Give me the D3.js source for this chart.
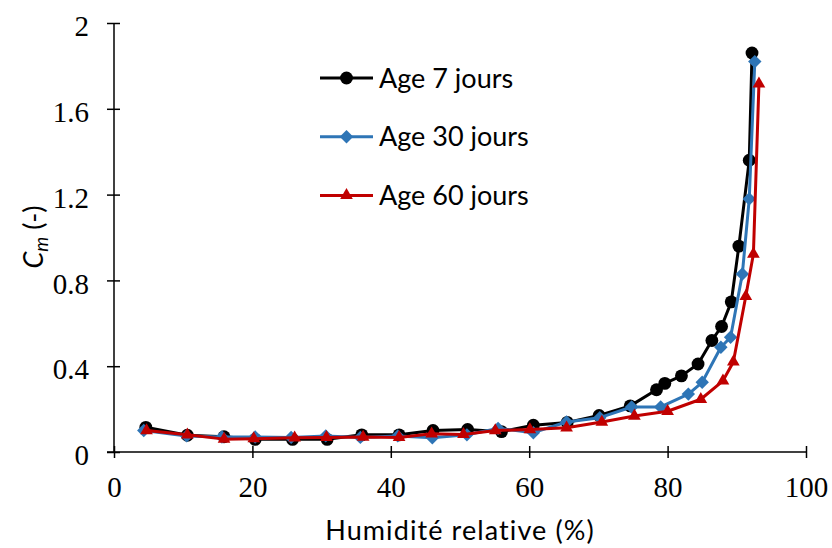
<!DOCTYPE html>
<html>
<head>
<meta charset="utf-8">
<script src="https://cdn.jsdelivr.net/npm/d3@7/dist/d3.min.js"></script>
<style>
  body { margin: 0; background: #fff; }
  svg { display: block; }
</style>
</head>
<body>
<svg id="chart" width="832" height="548"></svg>
<script>
// ---- Data ----
const xTicks = [0, 20, 40, 60, 80, 100];
const yTicks = [0, 0.4, 0.8, 1.2, 1.6, 2];
const yTickLabels = ["0", "0.4", "0.8", "1.2", "1.6", "2"];

const age7X = [4.6, 10.6, 15.9, 20.4, 25.8, 30.8, 35.8, 41.2, 46.1, 51.1, 56.0, 60.6, 65.5, 70.1, 74.6, 78.4, 79.6, 82.0, 84.4, 86.4, 87.8, 89.2, 90.3, 91.8, 92.2];
const age7Y = [0.115, 0.078, 0.071, 0.059, 0.059, 0.059, 0.08, 0.08, 0.10, 0.105, 0.095, 0.125, 0.138, 0.17, 0.215, 0.29, 0.32, 0.355, 0.41, 0.52, 0.585, 0.70, 0.96, 1.36, 1.86];

const age30X = [4.3, 10.5, 15.6, 20.4, 25.6, 30.6, 35.6, 41.0, 46.0, 51.0, 55.5, 60.6, 65.4, 70.2, 74.8, 79.0, 83.0, 85.0, 87.7, 89.1, 90.8, 91.8, 92.6];
const age30Y = [0.10, 0.075, 0.07, 0.07, 0.068, 0.075, 0.068, 0.075, 0.066, 0.08, 0.11, 0.09, 0.14, 0.16, 0.21, 0.21, 0.27, 0.325, 0.488, 0.535, 0.83, 1.18, 1.82];

const age60X = [4.7, 10.6, 15.9, 20.2, 26.1, 30.7, 36.0, 41.2, 45.9, 50.5, 55.1, 60.1, 65.4, 70.5, 75.2, 80.0, 84.8, 88.0, 89.5, 91.3, 92.4, 93.2];
const age60Y = [0.10, 0.08, 0.06, 0.062, 0.066, 0.068, 0.07, 0.068, 0.085, 0.082, 0.10, 0.105, 0.113, 0.14, 0.168, 0.19, 0.246, 0.332, 0.42, 0.726, 0.923, 1.716];

const seriesNames = ["Age 7 jours", "Age 30 jours", "Age 60 jours"];
const seriesColors = ["#000000", "#2E75B6", "#C00000"];

const series = [
  { name: seriesNames[0], xs: age7X, ys: age7Y },
  { name: seriesNames[1], xs: age30X, ys: age30Y },
  { name: seriesNames[2], xs: age60X, ys: age60Y }
].map((s, i) => ({
  ...s,
  color: seriesColors[i],
  kind: i,
  points: s.xs.map((x, j) => ({ x, y: s.ys[j] }))
}));

// marker drawing
const markerDefs = [
  { type: d3.symbolCircle, size: 130, rot: 0 },
  { type: d3.symbolSquare, size: 90, rot: 45 },
  { type: d3.symbolTriangle, size: 70, rot: 0 }
];
function markerTransform(k, px, py) {
  return `translate(${px},${py}) rotate(${markerDefs[k].rot})`;
}
function markerPath(k) {
  return d3.symbol().type(markerDefs[k].type).size(markerDefs[k].size)();
}

// ---- Layout ----
const svg = d3.select("#chart");
const x = d3.scaleLinear().domain([0, 100]).range([114, 806]);
const y = d3.scaleLinear().domain([0, 2]).range([452, 23]);

const serif = "'Liberation Serif', 'Times New Roman', serif";
const sans = "Lato, 'Open Sans', sans-serif";

// X axis
const xAxis = svg.append("g").attr("transform", `translate(0,${y(0)})`)
  .call(d3.axisBottom(x).tickValues(xTicks).tickSize(0).tickPadding(0).tickFormat(d3.format("d")));
xAxis.select(".domain").remove();
xAxis.append("line").attr("x1", x(0) - 7).attr("x2", x(100)).attr("y1", 0).attr("y2", 0)
  .attr("stroke", "#000").attr("stroke-width", 1.5);
xAxis.selectAll(".tick").append("line").attr("y1", -6).attr("y2", 6)
  .attr("stroke", "#000").attr("stroke-width", 1.5);
xAxis.selectAll(".tick text").attr("y", 45).attr("dy", 0)
  .style("font-family", serif).style("font-size", "29px").attr("fill", "#000");

// Y axis
const yAxis = svg.append("g").attr("transform", `translate(${x(0)},0)`)
  .call(d3.axisLeft(y).tickValues(yTicks).tickSize(0).tickPadding(0)
    .tickFormat((d, i) => yTickLabels[i]));
yAxis.select(".domain").remove();
yAxis.append("line").attr("x1", 0).attr("x2", 0).attr("y1", y(2)).attr("y2", y(0) + 1)
  .attr("stroke", "#000").attr("stroke-width", 1.5);
yAxis.selectAll(".tick").append("line").attr("x1", -7).attr("x2", 6)
  .attr("stroke", "#000").attr("stroke-width", 1.5);
yAxis.selectAll(".tick text").attr("x", -25).attr("dy", "0.44em")
  .style("font-family", serif).style("font-size", "29px").attr("fill", "#000");

// Axis titles
svg.append("text").attr("x", 460).attr("y", 540).attr("text-anchor", "middle")
  .style("font-family", sans).style("font-size", "27px").style("letter-spacing", "1.1px")
  .attr("fill", "#000")
  .text("Humidité relative (%)");

const yt = svg.append("text").attr("transform", `translate(43,237) rotate(-90)`)
  .attr("text-anchor", "middle")
  .style("font-family", sans).style("font-size", "27px").attr("fill", "#000");
yt.append("tspan").style("font-style", "italic").text("C");
yt.append("tspan").style("font-style", "italic").style("font-size", "19px").attr("dy", 5).text("m");
yt.append("tspan").attr("dy", -5).text(" (-)");

// Lines and markers
const line = d3.line().x(d => x(d.x)).y(d => y(d.y));
series.forEach(s => {
  const g = svg.append("g");
  g.append("path").datum(s.points).attr("d", line)
    .attr("fill", "none").attr("stroke", s.color).attr("stroke-width", 3)
    .attr("stroke-linejoin", "round");
  g.selectAll("path.m").data(s.points).join("path").attr("class", "m")
    .attr("transform", d => markerTransform(s.kind, x(d.x), y(d.y)))
    .attr("d", markerPath(s.kind))
    .attr("fill", s.color);
});

// Legend
const legend = svg.append("g");
series.forEach((s, i) => {
  const ly = 78 + i * 58.7;
  legend.append("line").attr("x1", 320).attr("x2", 373).attr("y1", ly).attr("y2", ly)
    .attr("stroke", s.color).attr("stroke-width", 3);
  legend.append("path").attr("transform", markerTransform(s.kind, 346.5, ly))
    .attr("d", markerPath(s.kind)).attr("fill", s.color);
  legend.append("text").attr("x", 379).attr("y", ly).attr("dy", "0.36em")
    .style("font-family", sans).style("font-size", "27px").attr("fill", "#000")
    .text(s.name);
});
</script>
</body>
</html>
